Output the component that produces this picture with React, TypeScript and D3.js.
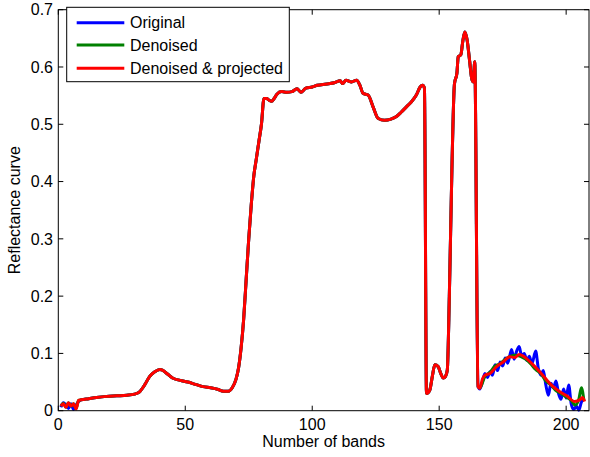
import React, { useEffect, useRef } from 'react';
import * as d3 from 'd3';

// [band, reflectance] pairs
const headOriginal: [number, number][] = [
  [1, 0.006], [2, 0.014], [3, 0.010], [4, 0.004], [5, 0.012], [6, 0.002], [7, 0.010], [8, 0.016],
];
const headDenoised: [number, number][] = [
  [1, 0.008], [2, 0.013], [3, 0.006], [4, 0.014], [5, 0.008], [6, 0.012], [7, 0.004], [8, 0.018],
];
const headProjected: [number, number][] = [
  [1, 0.008], [2, 0.012], [3, 0.006], [4, 0.014], [5, 0.008], [6, 0.012], [7, 0.003], [8, 0.018],
];

const middle: [number, number][] = [
  [9, 0.019], [12, 0.021], [15, 0.023], [19, 0.025], [23, 0.026], [27, 0.027], [30, 0.029],
  [32, 0.033], [34, 0.045], [36, 0.060], [38, 0.068], [40, 0.072], [41, 0.071], [43, 0.064],
  [45, 0.057], [48, 0.053], [51, 0.050], [54, 0.046], [57, 0.042], [60, 0.040], [63, 0.037],
  [65, 0.034], [67, 0.034], [68.5, 0.040], [70, 0.055], [71, 0.075], [72, 0.110], [73, 0.160],
  [74, 0.230], [75, 0.300], [76, 0.360], [77, 0.410], [78, 0.440], [79, 0.470], [80, 0.500],
  [81, 0.545], [82, 0.545], [83, 0.542], [84, 0.540], [85, 0.545], [86, 0.552], [88, 0.557],
  [90, 0.556], [92, 0.557], [94, 0.562], [95.5, 0.556], [97.5, 0.563], [100, 0.565], [102, 0.568],
  [105, 0.570], [107, 0.571], [109, 0.573], [111, 0.576], [112, 0.571], [113.3, 0.577],
  [115.5, 0.574], [117.5, 0.577], [118.8, 0.568], [120, 0.554], [122, 0.551], [124, 0.530],
  [126, 0.510], [128.5, 0.507], [131, 0.509], [133, 0.513], [135, 0.521], [137, 0.530],
  [139, 0.539], [141, 0.551], [142.5, 0.565], [143.5, 0.568], [144.2, 0.563], [145, 0.030],
  [146.3, 0.036], [147.3, 0.060], [148.3, 0.080], [149.6, 0.077], [150.6, 0.065], [151.6, 0.057],
  [152.5, 0.060], [153.2, 0.071], [154, 0.200], [155, 0.420], [156, 0.570], [157, 0.590],
  [157.5, 0.618], [158.5, 0.621], [159.3, 0.645], [160.1, 0.661], [161, 0.647], [162, 0.610],
  [162.8, 0.580], [163.4, 0.574], [164, 0.609], [165.3, 0.042],
];

const tailOriginal: [number, number][] = [
  [166, 0.038], [167, 0.050], [168, 0.065], [169, 0.058], [170, 0.068], [171, 0.062], [172, 0.080],
  [173, 0.070], [174, 0.085], [175, 0.078], [176, 0.092], [177, 0.083], [178.5, 0.107],
  [179.5, 0.090], [180.5, 0.104], [181.5, 0.112], [182.5, 0.095], [183.5, 0.100], [184.5, 0.088],
  [185.5, 0.095], [186.5, 0.082], [188, 0.104], [189, 0.075], [190, 0.062], [191, 0.070],
  [192, 0.045], [193, 0.027], [194, 0.048], [195, 0.040], [196, 0.052], [197, 0.030], [198, 0.020],
  [199, 0.038], [200, 0.022], [201, 0.045], [202, 0.012], [203, 0.002], [204, 0.008], [205, 0.001],
  [206, 0.015], [207, 0.020],
];
const tailDenoised: [number, number][] = [
  [166, 0.040], [168, 0.060], [170, 0.067], [172, 0.078], [174, 0.082], [176, 0.090], [178, 0.095],
  [180, 0.097], [182, 0.095], [184, 0.090], [186, 0.082], [188, 0.072], [190, 0.065], [192, 0.052],
  [194, 0.045], [196, 0.035], [198, 0.030], [200, 0.024], [202, 0.018], [203.5, 0.010],
  [205, 0.020], [206, 0.040], [207, 0.018],
];
const tailProjected: [number, number][] = [
  [166, 0.039], [167, 0.055], [168, 0.062], [170, 0.065], [172.6, 0.077], [175.2, 0.085],
  [177.8, 0.094], [179.8, 0.093], [181.5, 0.098], [184.4, 0.091], [187, 0.080], [189.6, 0.068],
  [192.3, 0.054], [194.9, 0.042], [197.5, 0.033], [200.2, 0.026], [203.4, 0.016], [205.4, 0.019],
  [206.4, 0.023], [207.3, 0.016],
];

const seriesNames = ['Original', 'Denoised', 'Denoised & projected'];
const seriesColors = ['#0000ff', '#008000', '#ff0000'];
const xTicks = [0, 50, 100, 150, 200];
const yTicks = [0, 0.1, 0.2, 0.3, 0.4, 0.5, 0.6, 0.7];

function App() {
  const ref = useRef<SVGSVGElement>(null);

  useEffect(() => {
    const width = 590, height = 457;
    const m = { left: 58.3, right: 1, top: 9.7, bottom: 46.3 };
    const font = 'Liberation Sans, Arial, sans-serif';

    const svg = d3.select(ref.current);
    svg.selectAll('*').remove();

    const x = d3.scaleLinear().domain([0, 209]).range([m.left, width - m.right]);
    const y = d3.scaleLinear().domain([0, 0.7]).range([height - m.bottom, m.top]);

    const series = [
      [...headOriginal, ...middle, ...tailOriginal],
      [...headDenoised, ...middle, ...tailDenoised],
      [...headProjected, ...middle, ...tailProjected],
    ];

    const line = d3.line<[number, number]>()
      .x(d => x(d[0]))
      .y(d => y(d[1]))
      .curve(d3.curveMonotoneX);

    svg.append('g')
      .selectAll('path')
      .data(series)
      .join('path')
      .attr('fill', 'none')
      .attr('stroke', (d, i) => seriesColors[i])
      .attr('stroke-width', 3)
      .attr('stroke-linejoin', 'round')
      .attr('d', d => line(d));

    // box and ticks (MATLAB style, inward)
    const x0 = x.range()[0], x1 = x.range()[1];
    const y0 = y.range()[0], y1 = y.range()[1];
    const axes = svg.append('g').attr('stroke', '#000').attr('stroke-width', 1);
    axes.append('rect')
      .attr('x', x0).attr('y', y1).attr('width', x1 - x0).attr('height', y0 - y1)
      .attr('fill', 'none');
    xTicks.forEach(t => {
      axes.append('line').attr('x1', x(t)).attr('x2', x(t)).attr('y1', y0).attr('y2', y0 - 5);
      axes.append('line').attr('x1', x(t)).attr('x2', x(t)).attr('y1', y1).attr('y2', y1 + 5);
    });
    yTicks.forEach(t => {
      axes.append('line').attr('x1', x0).attr('x2', x0 + 5).attr('y1', y(t)).attr('y2', y(t));
      axes.append('line').attr('x1', x1).attr('x2', x1 - 5).attr('y1', y(t)).attr('y2', y(t));
    });

    const labels = svg.append('g').style('font-family', font).style('font-size', '16px').attr('fill', '#000');
    labels.selectAll('.xt')
      .data(xTicks)
      .join('text')
      .attr('x', d => x(d))
      .attr('y', 430)
      .attr('text-anchor', 'middle')
      .text(d => d3.format('')(d));
    labels.selectAll('.yt')
      .data(yTicks)
      .join('text')
      .attr('x', 53)
      .attr('y', d => y(d))
      .attr('dy', '0.36em')
      .attr('text-anchor', 'end')
      .text(d => (d === 0 ? '0' : d3.format('.1f')(d)));

    labels.append('text')
      .attr('x', (x0 + x1) / 2)
      .attr('y', 447)
      .attr('text-anchor', 'middle')
      .text('Number of bands');
    labels.append('text')
      .attr('transform', `translate(20,${(y0 + y1) / 2}) rotate(-90)`)
      .attr('text-anchor', 'middle')
      .text('Reflectance curve');

    // legend
    const lg = svg.append('g');
    lg.append('rect')
      .attr('x', 66.7).attr('y', 7.3).attr('width', 222.6).attr('height', 74.4)
      .attr('fill', '#fff').attr('stroke', '#000').attr('stroke-width', 1);
    const rows = [22.7, 45, 68.3];
    seriesNames.forEach((name, i) => {
      lg.append('line')
        .attr('x1', 76.7).attr('x2', 124.3).attr('y1', rows[i]).attr('y2', rows[i])
        .attr('stroke', seriesColors[i]).attr('stroke-width', 3);
      lg.append('text')
        .attr('x', 130).attr('y', rows[i]).attr('dy', '0.36em')
        .style('font-family', font).style('font-size', '16px')
        .text(name);
    });
  }, []);

  return (
    <svg
      ref={ref}
      width={590}
      height={457}
      style={{ position: 'absolute', left: 0, top: 0, background: '#fff' }}
    />
  );
}

export default App;
